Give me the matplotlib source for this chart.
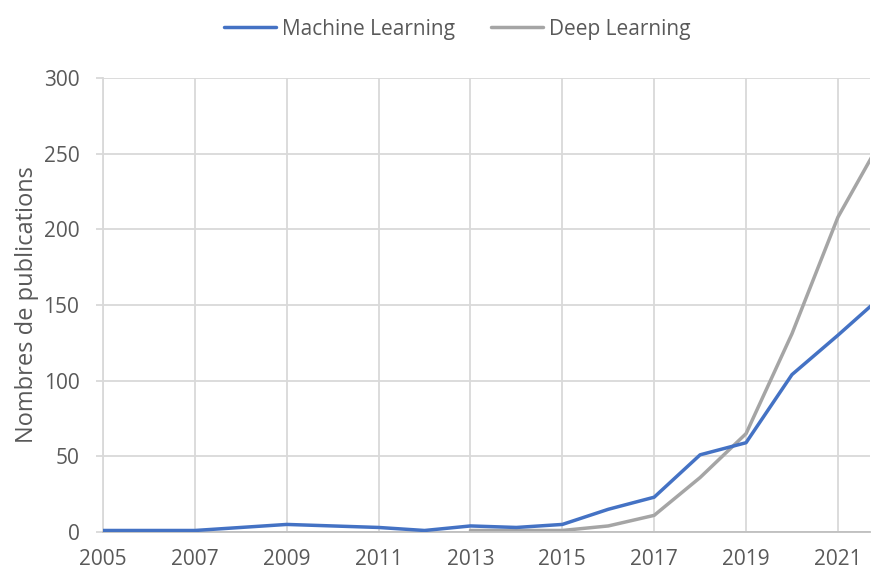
import matplotlib.pyplot as plt

plt.rcParams['font.family'] = ['Open Sans', 'DejaVu Sans']

years = list(range(2005, 2023))
ml = [1, 1, 1, 3, 5, 4, 3, 1, 4, 3, 5, 15, 23, 51, 59, 104, 130, 157]
dl_years = list(range(2013, 2023))
dl = [1, 1, 1, 4, 11, 36, 65, 131, 208, 262]

fig = plt.figure(figsize=(8.71, 5.71), dpi=100)
ax = fig.add_axes([0.1183, 0.0683, 0.8806, 0.7951])

ax.plot(years, ml, color='#4472C4', lw=2.5, label='Machine Learning', solid_capstyle='round', zorder=3)
ax.plot(dl_years, dl, color='#A5A5A5', lw=2.5, label='Deep Learning', solid_capstyle='round', zorder=2)

ax.set_xlim(2005, 2021.7)
ax.set_ylim(0, 300)
ax.set_xticks(range(2005, 2022, 2))
ax.set_yticks(range(0, 301, 50))
ax.grid(True, color='#d9d9d9', lw=1.3)
ax.set_axisbelow(True)
for s in ['top', 'right']:
    ax.spines[s].set_visible(False)
ax.spines['left'].set_color('#d9d9d9')
ax.spines['left'].set_linewidth(1.3)
ax.spines['bottom'].set_color('#bfbfbf')
ax.spines['bottom'].set_linewidth(1.3)
ax.tick_params(axis='x', length=0, labelsize=15, colors='#595959', pad=12)
ax.tick_params(axis='y', length=5, width=1.3, color='#d9d9d9', labelsize=15,
               labelcolor='#595959', pad=12)
ax.set_ylabel('Nombres de publications', fontsize=17, color='#595959', labelpad=3)

fig.legend(loc='upper center', bbox_to_anchor=(0.525, 1.0), ncol=2, frameon=False,
           fontsize=15, labelcolor='#595959', handlelength=2.5, handletextpad=0.3,
           columnspacing=1.7)

fig.savefig('out.png')
